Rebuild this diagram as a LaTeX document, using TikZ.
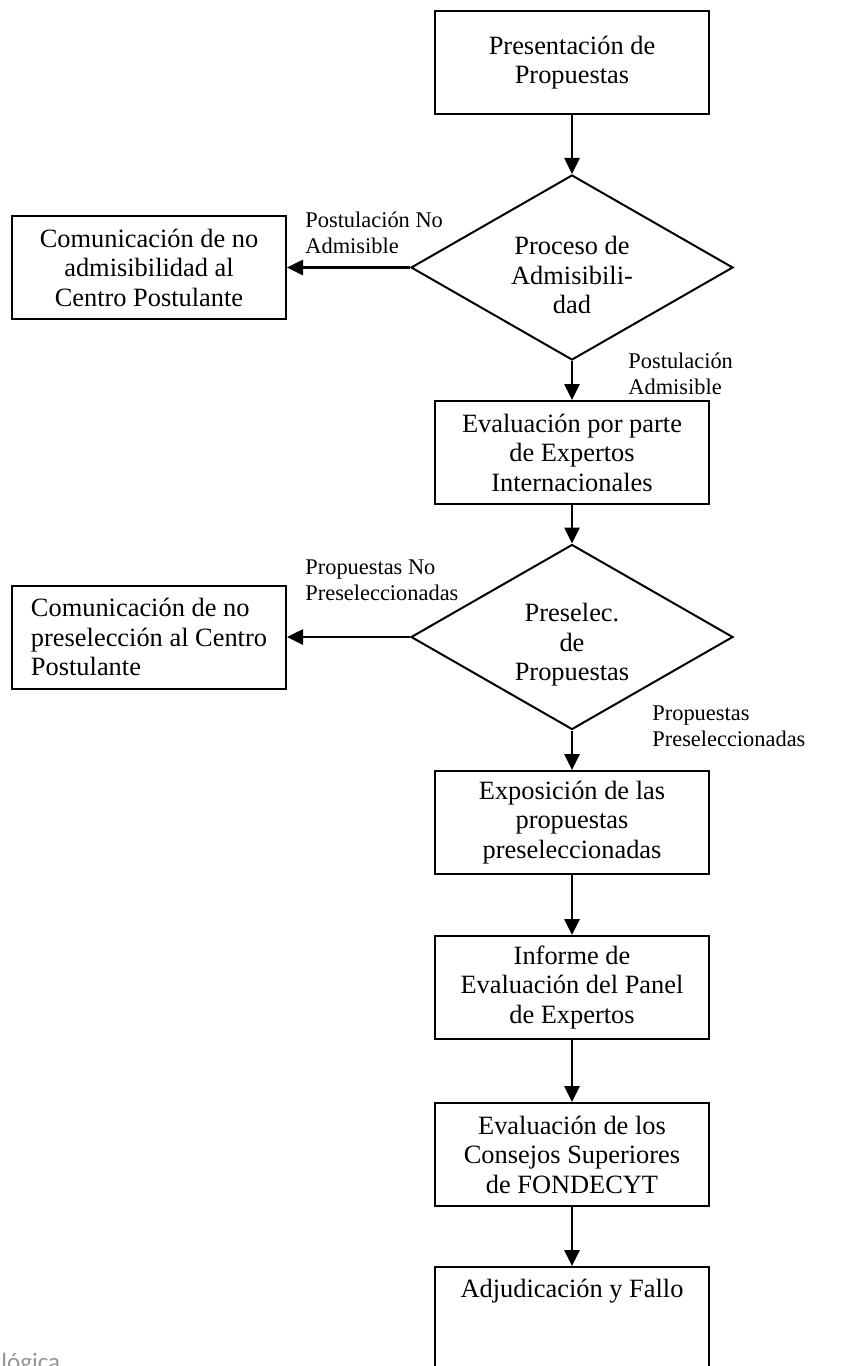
\documentclass[tikz,border=0pt]{standalone}
\usepackage{fontspec}
\setmainfont{Liberation Serif}
\newfontfamily\footfont{Carlito}
\usetikzlibrary{shapes.geometric,arrows.meta}
\definecolor{footgray}{RGB}{150,150,150}

\begin{document}
\begin{tikzpicture}[x=0.5pt,y=-0.5pt,
  box/.style={draw,line width=1pt,minimum width=137pt,minimum height=51.5pt,inner sep=2pt,align=center,font=\fontsize{13.2}{14.75}\selectfont},
  decision/.style={draw,diamond,aspect=1.74,line width=1pt,minimum width=161pt,minimum height=92.5pt,inner sep=0pt,align=center,font=\fontsize{13.2}{14.75}\selectfont},
  lbl/.style={anchor=west,align=left,inner sep=0pt,font=\fontsize{11.2}{13}\selectfont},
  arr/.style={line width=1.3pt,-{Triangle[length=8pt,width=7.5pt]}}]

\useasboundingbox (0,0) rectangle (842,1366);

\node[box] (pres) at (572,62.5) {Presentación de\\Propuestas};
\node[decision] (admis) at (572,267.5) {\rule{0pt}{17pt}Proceso de\\Admisibili-\\dad};
\node[box] (noadmis) at (149,267.5) {Comunicación de no\\admisibilidad al\\Centro Postulante};
\node[box] (expertos) at (572,452.5) {Evaluación por parte\\de Expertos\\Internacionales};
\node[decision] (presel) at (572,637) {\rule{0pt}{17pt}Preselec.\\de\\Propuestas};
\node[box,align=left] (nopresel) at (149,637) {Comunicación de no\\preselección al Centro\\Postulante};
\node[box] (exposicion) at (572,822.5) {Exposición de las\\propuestas\\preseleccionadas};
\node[box] (informe) at (572,987.5) {Informe de\\Evaluación del Panel\\de Expertos};
\node[box] (consejos) at (572,1154.5) {Evaluación de los\\Consejos Superiores\\de FONDECYT};
\node[box,text depth=30pt] (fallo) at (572,1318.5) {Adjudicación y Fallo};

\node[lbl] (lnoadmis) at (305,233) {Postulación No\\Admisible};
\node[lbl] (ladmis) at (628,374) {Postulación\\Admisible};
\node[lbl] (lnopresel) at (305,580.5) {Propuestas No\\Preseleccionadas};
\node[lbl] (lpresel) at (652,726.5) {Propuestas\\Preseleccionadas};

\draw[arr] (pres) -- (admis);
\draw[arr] (admis) -- (noadmis);
\draw[arr] (admis) -- (expertos);
\draw[arr] (expertos) -- (presel);
\draw[arr] (presel) -- (nopresel);
\draw[arr] (presel) -- (exposicion);
\draw[arr] (exposicion) -- (informe);
\draw[arr] (informe) -- (consejos);
\draw[arr] (consejos) -- (fallo);

\node[anchor=base west,inner sep=0pt,text=footgray,font=\footfont\fontsize{12.5}{14}\selectfont] (foot) at (1,1370) {lógica};

\end{tikzpicture}
\end{document}
